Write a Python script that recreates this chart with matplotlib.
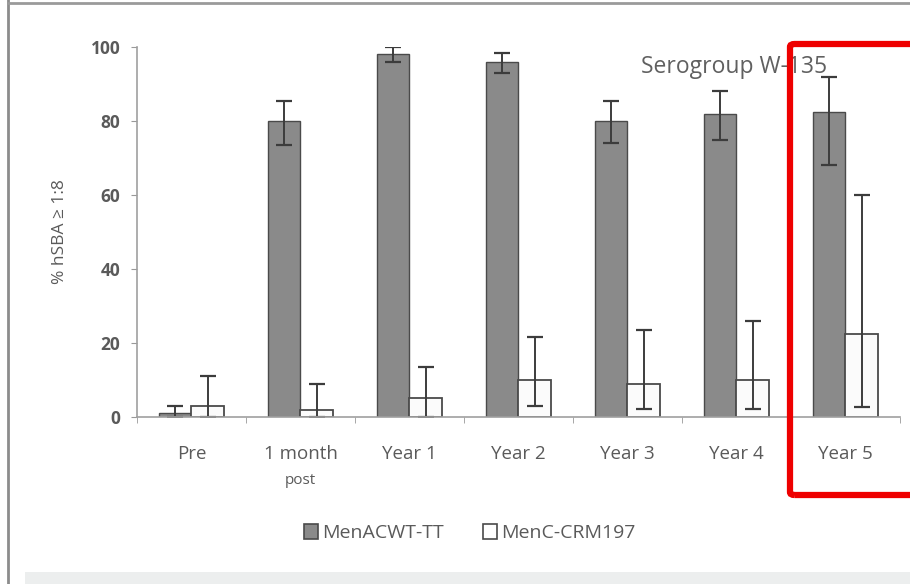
import matplotlib.pyplot as plt
from matplotlib.patches import Rectangle, FancyBboxPatch
from matplotlib.lines import Line2D
import numpy as np

plt.rcParams['font.family'] = ['Open Sans', 'DejaVu Sans']

groups = ['Pre', '1 month', 'Year 1', 'Year 2', 'Year 3', 'Year 4', 'Year 5']

# MenACWY-TT
acwy = [1, 80, 98, 96, 80, 82, 82.5]
acwy_lo = [0, 73.5, 96, 93, 74, 75, 68]
acwy_hi = [3, 85.5, 100, 98.5, 85.5, 88, 92]

# MenC-CRM197
menc = [3, 2, 5, 10, 9, 10, 22.5]
menc_lo = [0, 0, 0, 3, 2.2, 2.2, 2.7]
menc_hi = [11, 9, 13.5, 21.5, 23.5, 26, 60]

txt = '#5a5a5a'
edge = '#4a4a4a'

fig = plt.figure(figsize=(9.1, 5.84), dpi=100)
ax = fig.add_axes([0.1505, 0.286, 0.8385, 0.6335])

x = np.arange(len(groups))
w = 0.3
ax.bar(x - w / 2, acwy, w, color='#8a8a8a', edgecolor=edge, linewidth=1.0)
ax.bar(x + w / 2, menc, w, color='#fbfbfb', edgecolor=edge, linewidth=1.3)

err_a = [np.array(acwy) - np.array(acwy_lo), np.array(acwy_hi) - np.array(acwy)]
err_c = [np.array(menc) - np.array(menc_lo), np.array(menc_hi) - np.array(menc)]
ax.errorbar(x - w / 2, acwy, yerr=err_a, fmt='none', ecolor='#3c3c3c',
            elinewidth=1.4, capsize=6, capthick=1.6)
ax.errorbar(x + w / 2, menc, yerr=err_c, fmt='none', ecolor='#3c3c3c',
            elinewidth=1.4, capsize=6, capthick=1.6)

ax.set_xlim(-0.5, len(groups) - 0.5)
ax.set_ylim(0, 100)
ax.set_yticks(range(0, 101, 20))
ax.set_xticks(x)
ax.set_xticklabels(groups)
ax.set_xticks(np.arange(-0.5, len(groups)), minor=True)
ax.tick_params(axis='x', which='major', length=0, pad=20, labelsize=13.5, labelcolor=txt)
ax.tick_params(axis='x', which='minor', length=4, color='#999999', direction='out')
ax.tick_params(axis='y', length=4, color='#999999', labelsize=12.5, labelcolor=txt, pad=8)
for lbl in ax.get_yticklabels():
    lbl.set_fontweight('bold')

for s in ['top', 'right']:
    ax.spines[s].set_visible(False)
for s in ['left', 'bottom']:
    ax.spines[s].set_color('#a0a0a0')
    ax.spines[s].set_linewidth(1.2)

ax.text(1, -0.172, 'post', transform=ax.get_xaxis_transform(), ha='center',
        va='center', fontsize=11, color=txt)

ax.set_ylabel('% hSBA ≥ 1:8', fontsize=12.5, color=txt, labelpad=16)

ax.text(0.782, 0.945, 'Serogroup W-135', transform=ax.transAxes, ha='center',
        va='center', fontsize=16.5, color='#606060')

handles = [Rectangle((0, 0), 1, 1, facecolor='#8a8a8a', edgecolor=edge, linewidth=1.2),
           Rectangle((0, 0), 1, 1, facecolor='white', edgecolor=edge, linewidth=1.2)]
fig.legend(handles, ['MenACWT-TT', 'MenC-CRM197'], loc='center',
           bbox_to_anchor=(0.516, 0.087), ncol=2, frameon=False,
           handlelength=0.75, handleheight=0.75, handletextpad=0.2,
           columnspacing=2.0, fontsize=14, labelcolor=txt)

# outer frame and bottom band
fig.add_artist(Line2D([8 / 910, 8 / 910], [0, 1], color='#8c8c8c', linewidth=2))
fig.add_artist(Line2D([8 / 910, 1], [1 - 3 / 584, 1 - 3 / 584], color='#9a9a9a', linewidth=2))
fig.add_artist(Rectangle((25 / 910, 0), 1, 12 / 584, facecolor='#eceeee',
                         edgecolor='none', transform=fig.transFigure))

# red highlight around the last group
fig.add_artist(FancyBboxPatch((790 / 910, 1 - 495 / 584), 0.3, (495 - 44) / 584,
                              boxstyle='round,pad=0,rounding_size=0.005',
                              facecolor='none', edgecolor='#ee0000', linewidth=4.5,
                              transform=fig.transFigure))

fig.savefig('out.png', dpi=100)
